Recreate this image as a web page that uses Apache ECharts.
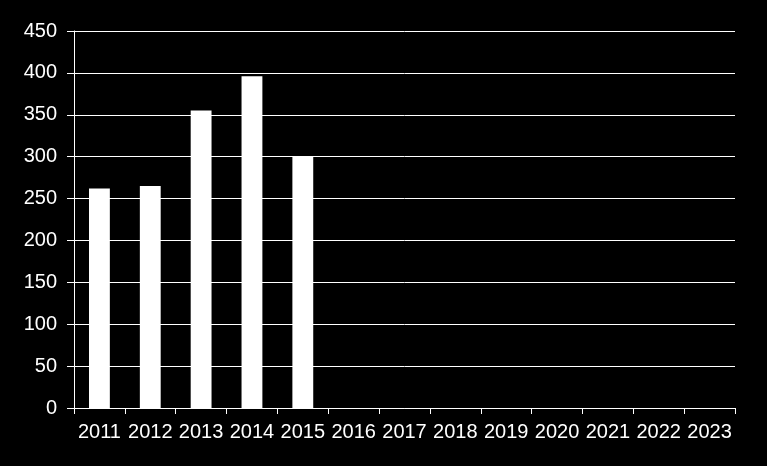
<!DOCTYPE html>
<html><head><meta charset="utf-8">
<script src="https://cdn.jsdelivr.net/npm/echarts@6/dist/echarts.min.js"></script>
<style>html,body{margin:0;padding:0;background:#000}#c{width:767px;height:466px}</style>
</head><body><div id="c"></div>
<script>
const categories = ['2011','2012','2013','2014','2015','2016','2017','2018','2019','2020','2021','2022','2023'];
const values = [262, 265, 355, 396, 300, null, null, null, null, null, null, null, null];
const yMin = 0, yMax = 450, yStep = 50;

const chart = echarts.init(document.getElementById('c'));
chart.setOption({
  backgroundColor: '#000',
  animation: false,
  grid: { left: 74, right: 32, top: 31, bottom: 58, containLabel: false },
  xAxis: {
    type: 'category', data: categories,
    axisLine: { lineStyle: { color: '#fff', width: 1 } },
    axisTick: { show: true, alignWithLabel: false, length: 6, lineStyle: { color: '#fff' } },
    axisLabel: { color: '#fff', fontFamily: 'Liberation Sans, Arial, sans-serif', fontSize: 20, margin: 14, interval: 0 }
  },
  yAxis: {
    type: 'value', min: yMin, max: yMax, interval: yStep,
    axisLine: { show: true, lineStyle: { color: '#fff', width: 1 } },
    axisTick: { show: true, length: 7, lineStyle: { color: '#fff' } },
    splitLine: { show: true, lineStyle: { color: '#fff', width: 1 } },
    axisLabel: { color: '#fff', fontFamily: 'Liberation Sans, Arial, sans-serif', fontSize: 20, margin: 17 }
  },
  series: [{
    type: 'bar', data: values, barWidth: '41%',
    itemStyle: { color: '#fff' }
  }]
});
</script></body></html>
